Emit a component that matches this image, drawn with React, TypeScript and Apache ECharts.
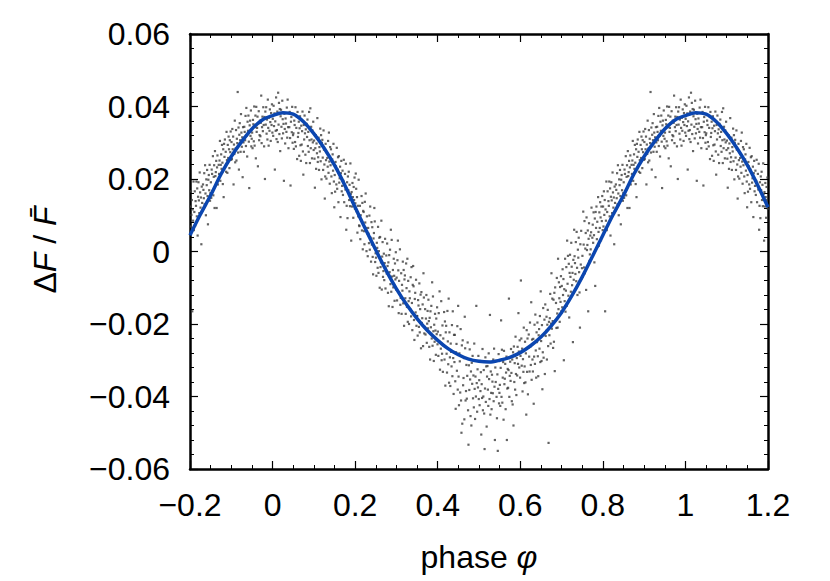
import { useEffect, useRef } from "react";
import * as echarts from "echarts";

// x axis ticks and y axis ticks
const xMin = -0.2;
const xMax = 1.2;
const xStep = 0.2;
const yMin = -0.06;
const yMax = 0.06;
const yStep = 0.02;

// fitted curve at phase steps of 0.025 (-0.2 .. 1.2)
const curvePhase = [
  -0.2, -0.175, -0.15, -0.125, -0.1, -0.075, -0.05, -0.025,
  0, 0.025, 0.05, 0.075, 0.1, 0.125, 0.15, 0.175, 0.2, 0.225, 0.25, 0.275,
  0.3, 0.325, 0.35, 0.375, 0.4, 0.425, 0.45, 0.475, 0.5, 0.525, 0.55, 0.575,
  0.6, 0.625, 0.65, 0.675, 0.7, 0.725, 0.75, 0.775, 0.8, 0.825, 0.85, 0.875,
  0.9, 0.925, 0.95, 0.975, 1, 1.025, 1.05, 1.075, 1.1, 1.125, 1.15, 1.175, 1.2,
];
const curveFlux = [
  0.0045, 0.0102, 0.0155, 0.0213, 0.0262, 0.0303, 0.0338, 0.0363,
  0.0375, 0.0383, 0.0379, 0.0358, 0.0325, 0.0285, 0.0238, 0.0183, 0.0122, 0.0062, 0.0004, -0.0052,
  -0.0103, -0.0147, -0.0185, -0.0218, -0.0245, -0.0268, -0.0285, -0.0297, -0.0303, -0.0305, -0.0300, -0.0292,
  -0.0279, -0.0260, -0.0236, -0.0205, -0.0168, -0.0122, -0.0070, -0.0013, 0.0045, 0.0102, 0.0155, 0.0213,
  0.0262, 0.0303, 0.0338, 0.0363, 0.0375, 0.0383, 0.0379, 0.0358, 0.0325, 0.0285, 0.0238, 0.0183, 0.0122,
];

// observed points: one row per phase bin of width 0.01 (phase 0.00 .. 0.99),
// values are ΔF/F in units of 1e-4, estimated from the picture
const binWidth = 0.01;
const dotFluxBins: number[][] = [
  [366,319,402,346,381,226,359,333,425,310],
  [335,386,302,438,350,410,324,393,277,373],
  [391,344,312,416,365,326,352,195,380,338],
  [298,367,353,330,397,314,419,343,285,381],
  [343,385,313,182,358,371,329,399,300,321],
  [326,283,361,349,302,398,290,341,373,255],
  [385,316,327,358,264,340,373,293,250,347],
  [295,332,386,276,212,349,309,375,326,267],
  [337,244,352,316,364,291,330,275,385,307],
  [244,395,285,344,309,257,334,301,358,280],
  [306,256,176,285,321,228,298,271,368,247],
  [260,314,225,288,276,339,249,321,199,300],
  [308,259,225,334,281,240,146,207,297,252],
  [201,273,258,234,305,217,328,248,187,288],
  [238,282,207,161,254,268,223,297,193,122],
  [211,165,247,235,185,286,173,226,260,136],
  [263,190,202,234,95,216,250,166,181,223],
  [156,195,253,136,183,214,171,242,60,126],
  [191,92,207,169,220,142,184,125,243,159],
  [30,164,124,189,150,93,178,142,204,118],
  [133,215,173,111,150,52,126,97,198,72],
  [70,126,34,100,87,153,58,134,6,112],
  [109,56,20,137,80,160,65,1,97,50],
  [-13,65,49,23,99,5,124,38,-28,81],
  [19,67,-15,-63,36,51,120,83,-29,-5],
  [-17,-67,24,10,-45,68,-59,1,38,-100],
  [40,-43,-30,85,-105,-14,26,-70,-54,-6],
  [-79,-32,35,-102,-47,-11,-61,22,-40,-114],
  [-30,-151,-10,-57,5,-90,60,-111,32,-69],
  [-153,-51,-99,-20,-67,-136,-33,-77,-2,-105],
  [-72,-135,-24,30,-52,-170,-81,-116,6,-147],
  [-128,-60,-172,-92,-108,-28,-143,-51,-205,-77],
  [-66,-129,-172,-33,-101,-153,-20,-194,-81,-137],
  [-200,-110,-129,-159,-71,-179,-43,-142,-217,-92],
  [-40,-96,-189,-244,-131,-114,-168,-78,-205,-178],
  [-178,-232,-134,-149,-208,-88,-223,-159,-119,-267],
  [-112,-197,-184,-146,-261,-60,-127,-226,-208,-159],
  [-229,-185,-120,-252,-199,-164,-212,-133,-192,-263],
  [-183,-298,-165,-209,-150,-240,-85,-260,-124,-220],
  [-302,-202,-249,-172,-218,-285,-185,-228,-154,-256],
  [-221,-288,-170,-249,-110,-326,-231,-268,-137,-300],
  [-282,-204,-332,-240,-259,-167,-298,-193,-370,-223],
  [-205,-282,-334,-164,-248,-311,-130,-362,-223,-292],
  [-371,-254,-277,-317,-203,-344,-165,-294,-393,-230],
  [-305,-230,-358,-434,-278,-255,-329,-206,-381,-150],
  [-345,-424,-281,-303,-389,-214,-411,-500,-259,-475],
  [-245,-369,-349,-294,-463,-180,-267,-411,-385,-313],
  [-406,-343,-251,-438,-533,-314,-382,-270,-353,-454],
  [-331,-480,-307,-365,-288,-405,-342,-430,-254,-379],
  [-462,-345,-400,-150,-363,-442,-325,-375,-288,-407],
  [-355,-424,-302,-385,-333,-505,-366,-404,-269,-438],
  [-400,-327,-447,-545,-378,-292,-415,-317,-483,-345],
  [-316,-381,-426,-281,-352,-407,-175,-450,-331,-390],
  [-435,-340,-359,-391,-298,-413,-268,-373,-520,-320],
  [-360,-302,-401,-460,-339,-550,-379,-283,-419,-390],
  [-368,-426,-321,-190,-401,-271,-417,-348,-305,-464],
  [-274,-366,-351,-310,-435,-334,-290,-520,-378,-324],
  [-376,-327,-130,-401,-343,-304,-357,-269,-335,-413],
  [-298,-422,-278,-480,-262,-360,-308,-381,-235,-338],
  [-396,-294,-342,-263,-310,-170,-276,-320,-245,-348],
  [-288,-80,-240,-315,-268,-386,-297,-332,-210,-363],
  [-317,-249,-361,-281,-450,-217,-332,-240,-394,-266],
  [-229,-290,-331,-196,-262,-313,-140,-354,-243,-298],
  [-331,-241,-420,-290,-202,-310,-174,-273,-348,-223],
  [-250,-196,-289,-344,-231,-214,-268,-178,-305,-110],
  [-247,-302,-203,-380,-278,-156,-293,-228,-188,-338],
  [-146,-233,-219,-180,-298,-202,-161,-261,-528,-194],
  [-231,-184,-117,-254,-199,-60,-213,-130,-192,-266],
  [-133,-249,-114,-330,-99,-191,-142,-211,-73,-171],
  [-210,-20,-159,-85,-129,-194,-98,-139,-68,-165],
  [-95,-154,-49,-120,-76,-300,-104,-137,-20,-166],
  [-108,-43,-150,30,-89,-12,-122,-34,-182,-59],
  [-9,-70,-111,24,-42,-93,-59,-250,-23,-78],
  [60,-13,-32,-62,26,-82,54,-45,-120,5],
  [-17,38,-57,-113,-210,20,-36,57,-74,-46],
  [-12,-69,110,19,-44,84,-60,8,51,-106],
  [94,4,18,58,-165,35,78,-26,-8,44],
  [6,53,121,-18,38,74,24,108,45,-30],
  [91,-95,109,65,124,34,82,14,150,54],
  [16,108,65,136,94,31,124,84,153,59],
  [124,69,166,101,142,-165,116,85,193,59],
  [109,166,72,139,126,193,97,174,44,151],
  [191,141,106,218,163,121,149,20,179,134],
  [114,185,170,147,216,130,238,160,100,199],
  [183,225,153,75,198,211,169,239,140,161],
  [191,148,226,214,167,263,155,206,238,120],
  [277,208,219,250,120,232,265,185,199,239],
  [214,251,305,195,239,268,228,294,245,186],
  [282,150,297,261,309,236,275,220,330,252],
  [217,294,258,317,282,230,307,274,331,253],
  [302,255,338,282,317,185,295,269,361,246],
  [284,335,251,311,299,440,273,342,226,322],
  [354,307,275,379,328,289,315,205,343,301],
  [275,344,330,307,374,291,396,320,262,358],
  [333,375,303,175,348,361,319,389,290,311],
  [328,285,363,351,304,400,292,343,375,257],
  [399,330,341,372,235,354,387,307,321,361],
  [318,355,430,299,343,372,332,398,349,290],
  [371,200,386,350,398,325,364,309,419,341],
  [292,369,333,392,357,305,382,349,406,328],
];

const FONT = "'Liberation Sans', Arial, Helvetica, sans-serif";
const FONT_SIZE = 32;

function buildDots(): [number, number][] {
  const pts: [number, number][] = [];
  dotFluxBins.forEach((row, b) => {
    row.forEach((f, k) => {
      const phase = b * binWidth + ((k + 0.5) / row.length) * binWidth;
      const flux = f / 10000;
      // phase-folded data is shown over -0.2 .. 1.2 (repeated cycle)
      for (const shift of [-1, 0, 1]) {
        const p = phase + shift;
        if (p >= xMin && p <= xMax) pts.push([p, flux]);
      }
    });
  });
  return pts;
}

function fmt(v: number, digits: number): string {
  const m = Math.pow(10, digits);
  const r = Math.round(v * m) / m;
  if (r === 0) return "0";
  return (r < 0 ? "\u2212" : "") + String(Math.abs(r));
}

export default function App() {
  const ref = useRef<HTMLDivElement>(null);
  useEffect(() => {
    if (!ref.current) return;
    const chart = echarts.init(ref.current, undefined, { renderer: "svg" });
    const lineStyle = { color: "#000", width: 2.5 };
    const axisBase = {
      axisLine: { show: true, onZero: false, lineStyle },
      axisTick: { show: true, inside: true, length: 8, lineStyle: { color: "#000", width: 1.2 } },
      minorTick: { show: true, length: 4, lineStyle: { color: "#000", width: 1 } },
      splitLine: { show: false },
      minorSplitLine: { show: false },
    };
    const curve = curvePhase.map((p, i) => [p, curveFlux[i]]);
    chart.setOption({
      animation: false,
      backgroundColor: "#fff",
      grid: { left: 190, right: 62, top: 34, bottom: 112, containLabel: false },
      xAxis: [
        {
          type: "value", min: xMin, max: xMax, interval: xStep, position: "bottom",
          ...axisBase,
          minorTick: { ...axisBase.minorTick, splitNumber: 4 },
          axisLabel: { show: true, margin: 20, color: "#000", fontSize: FONT_SIZE, fontFamily: FONT, formatter: (v: number) => fmt(v, 2) },
        },
        {
          type: "value", min: xMin, max: xMax, interval: xStep, position: "top",
          ...axisBase,
          minorTick: { ...axisBase.minorTick, splitNumber: 4 },
          axisLabel: { show: false },
        },
      ],
      yAxis: [
        {
          type: "value", min: yMin, max: yMax, interval: yStep, position: "left",
          ...axisBase,
          minorTick: { ...axisBase.minorTick, splitNumber: 5 },
          axisLabel: { show: true, margin: 20, color: "#000", fontSize: FONT_SIZE, fontFamily: FONT, formatter: (v: number) => fmt(v, 3) },
        },
        {
          type: "value", min: yMin, max: yMax, interval: yStep, position: "right",
          ...axisBase,
          minorTick: { ...axisBase.minorTick, splitNumber: 5 },
          axisLabel: { show: false },
        },
      ],
      series: [
        {
          type: "scatter",
          data: buildDots(),
          symbol: "rect",
          symbolSize: 2.2,
          itemStyle: { color: "#3c3c3c" },
          silent: true,
          z: 2,
        },
        {
          type: "line",
          data: curve,
          smooth: 0.3,
          showSymbol: false,
          lineStyle: { color: "#0b46b0", width: 3.5 },
          silent: true,
          z: 3,
        },
      ],
      graphic: [
        {
          type: "text",
          x: 479,
          y: 557,
          style: {
            text: "{n|phase }{i|\u03c6}",
            align: "center",
            verticalAlign: "middle",
            rich: {
              n: { fontSize: FONT_SIZE, fontFamily: FONT, fill: "#000" },
              i: { fontSize: FONT_SIZE, fontFamily: FONT, fontStyle: "italic", fill: "#000" },
            },
          },
        },
        {
          type: "text",
          x: 45,
          y: 250,
          rotation: Math.PI / 2,
          style: {
            text: "{n|\u0394}{i|F}{n| / }{i|F\u0304}",
            align: "center",
            verticalAlign: "middle",
            rich: {
              n: { fontSize: FONT_SIZE, fontFamily: FONT, fill: "#000" },
              i: { fontSize: FONT_SIZE, fontFamily: FONT, fontStyle: "italic", fill: "#000" },
            },
          },
        },
      ],
    });
    return () => chart.dispose();
  }, []);
  return <div ref={ref} style={{ position: "fixed", left: 0, top: 0, width: 830, height: 581 }} />;
}
